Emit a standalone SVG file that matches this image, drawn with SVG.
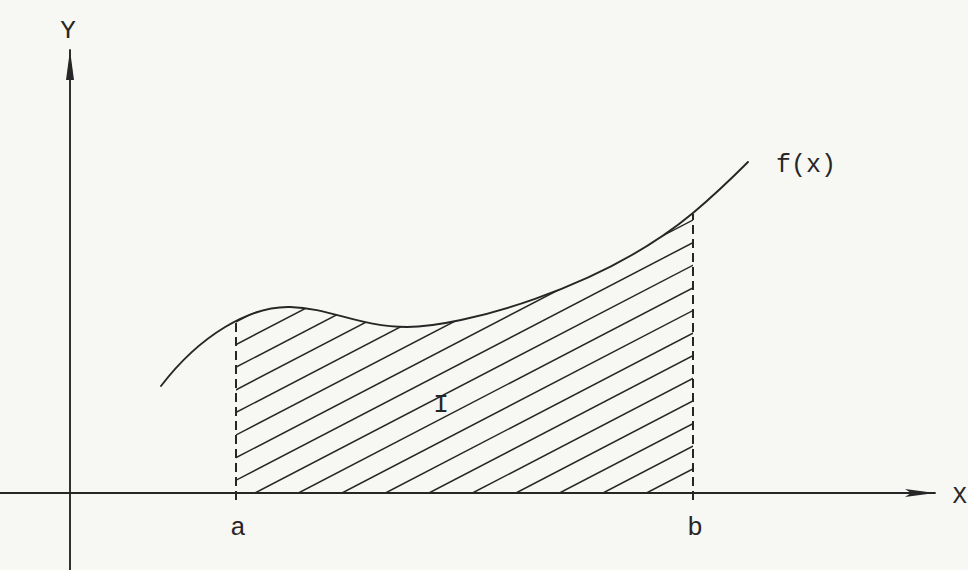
<svg xmlns="http://www.w3.org/2000/svg" width="968" height="570" viewBox="0 0 968 570">
<style>
.ln{fill:none;stroke:#262626;stroke-width:1.9;stroke-linecap:round}
.dash{fill:none;stroke:#262626;stroke-width:2;stroke-dasharray:9 5}
.hatch line{stroke:#262626;stroke-width:1.5}
.t{font-family:"Liberation Mono","DejaVu Sans Mono",monospace;fill:#262626}
</style>
<defs>
<marker id="ahx" viewBox="0 0 30 10" refX="30" refY="5" markerWidth="30" markerHeight="10" markerUnits="userSpaceOnUse" orient="auto">
<path d="M0,1 L30,5 L0,9 L6,5 Z" fill="#262626"/>
</marker>
<marker id="ahy" viewBox="0 0 30 10" refX="30" refY="5" markerWidth="30" markerHeight="10" markerUnits="userSpaceOnUse" orient="auto">
<path d="M0,1 L30,5 L0,9 Z" fill="#262626"/>
</marker>
<clipPath id="area">
<path d="M236,493 L236,321 C254,310 272,307 290,307 C330,308 360,327 407,327 C460,327 600,290 693,213 L693,493 Z"/>
</clipPath>
</defs>
<rect width="968" height="570" fill="#f7f7f3"/>
<g id="connectors">
<line id="x-axis" class="ln" x1="0" y1="493" x2="935" y2="493" marker-end="url(#ahx)"/>
<line id="y-axis" class="ln" x1="70" y1="570" x2="70" y2="50" marker-end="url(#ahy)"/>
</g>
<g id="curve">
<path class="ln" d="M161,386 C200,335 250,306 290,307 C330,308 360,327 407,327 C460,327 600,290 693,213 C712,197 730,180 748,162"/>
</g>
<g id="hatching" class="hatch" clip-path="url(#area)">
<line x1="646.5" y1="493" x2="1146.5" y2="233"/>
<line x1="603" y1="493" x2="1103" y2="233"/>
<line x1="559.5" y1="493" x2="1059.5" y2="233"/>
<line x1="516" y1="493" x2="1016" y2="233"/>
<line x1="472.5" y1="493" x2="972.5" y2="233"/>
<line x1="429" y1="493" x2="929" y2="233"/>
<line x1="385.5" y1="493" x2="885.5" y2="233"/>
<line x1="342" y1="493" x2="842" y2="233"/>
<line x1="298.5" y1="493" x2="798.5" y2="233"/>
<line x1="255" y1="493" x2="755" y2="233"/>
<line x1="211.5" y1="493" x2="711.5" y2="233"/>
<line x1="168" y1="493" x2="768" y2="181"/>
<line x1="124.5" y1="493" x2="724.5" y2="181"/>
<line x1="81" y1="493" x2="681" y2="181"/>
<line x1="37.5" y1="493" x2="637.5" y2="181"/>
<line x1="-6" y1="493" x2="594" y2="181"/>
<line x1="-49.5" y1="493" x2="550.5" y2="181"/>
<line x1="-93" y1="493" x2="507" y2="181"/>
<line x1="-136.5" y1="493" x2="463.5" y2="181"/>
</g>
<g id="bound-a"><line class="dash" x1="236" y1="500" x2="236" y2="322"/></g>
<g id="bound-b"><line class="dash" x1="693" y1="500" x2="693" y2="214"/></g>
<g id="labels">
<text class="t" x="68" y="38" font-size="26" text-anchor="middle">Y</text>
<text class="t" x="967" y="503" font-size="24" text-anchor="end">X</text>
<text class="t" x="776" y="172" font-size="25">f(x)</text>
<text class="t" x="238" y="535" font-size="26" text-anchor="middle">a</text>
<text class="t" x="695" y="535" font-size="26" text-anchor="middle">b</text>
<text class="t" x="441" y="412" font-size="26" text-anchor="middle">I</text>
</g>
</svg>
